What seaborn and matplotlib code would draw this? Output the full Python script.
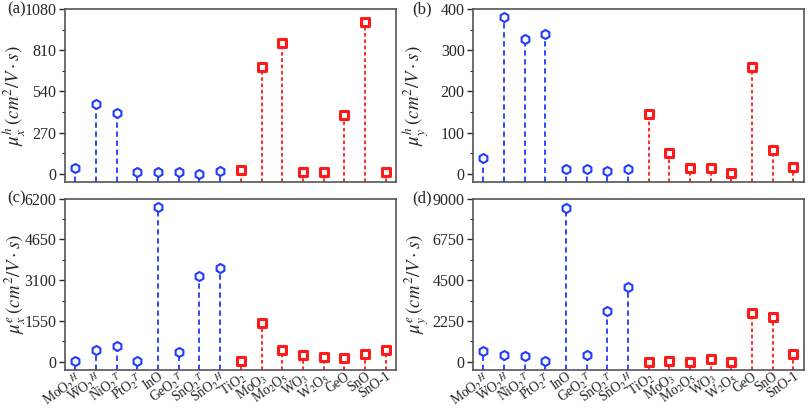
import numpy as np
import pandas as pd
import matplotlib
matplotlib.use('Agg')
import matplotlib.pyplot as plt
import seaborn as sns

# 재료 이름 (앞 8개는 파랑, 뒤 8개는 빨강)
materials = [r'MoO$_2$$^{H}$', r'WO$_2$$^{H}$', r'NiO$_2$$^{T}$', r'PtO$_2$$^{T}$', 'InO',
             r'GeO$_2$$^{T}$', r'SnO$_2$$^{T}$', r'SnO$_2$$^{H}$', r'TiO$_2$', r'MoO$_3$',
             r'Mo$_2$O$_5$', r'WO$_3$', r'W$_2$O$_5$', 'GeO', 'SnO', 'SnO-1']
group = ['blue'] * 8 + ['red'] * 8

mu_x_h = [39, 455, 398, 13, 9, 11, 1, 20, 22, 702, 855, 9, 11, 385, 995, 13]
mu_y_h = [39, 380, 327, 340, 11, 11, 7, 11, 146, 51, 14, 13, 3, 258, 58, 16]
mu_x_e = [10, 450, 590, 12, 5900, 375, 3250, 3560, 5, 1460, 440, 260, 175, 140, 290, 440]
mu_y_e = [566, 365, 292, 10, 8507, 365, 2793, 4126, 5, 55, 5, 128, 5, 2665, 2464, 438]

panels = [('(a)', mu_x_h, r'$\mu_x^h\,(cm^2/V\cdot s)$', [0, 270, 540, 810, 1080]),
          ('(b)', mu_y_h, r'$\mu_y^h\,(cm^2/V\cdot s)$', [0, 100, 200, 300, 400]),
          ('(c)', mu_x_e, r'$\mu_x^e\,(cm^2/V\cdot s)$', [0, 1550, 3100, 4650, 6200]),
          ('(d)', mu_y_e, r'$\mu_y^e\,(cm^2/V\cdot s)$', [0, 2250, 4500, 6750, 9000])]

sns.set_theme(style='ticks')
plt.rcParams['font.family'] = ['Liberation Serif', 'DejaVu Serif']
plt.rcParams['mathtext.fontset'] = 'stix'

blue = '#1f3cff'
red = '#ff1a1a'

fig = plt.figure(figsize=(8.1, 4.09), dpi=100)
boxes = [[0.080, 0.555, 0.409, 0.423], [0.584, 0.555, 0.408, 0.423],
         [0.080, 0.096, 0.409, 0.418], [0.584, 0.096, 0.408, 0.418]]

for i, (tag, vals, ylab, yt) in enumerate(panels):
    ax = fig.add_axes(boxes[i])
    df = pd.DataFrame({'x': np.arange(len(materials)), 'y': vals, 'g': group})
    ymax = yt[-1]
    ybot = -0.05 * ymax
    for g, c, ls in [('blue', blue, (0, (3, 2))), ('red', red, (0, (2, 1.5)))]:
        d = df[df.g == g]
        ax.vlines(d.x, ybot, d.y, colors=c, linestyles=[ls], linewidth=1.3)
    sns.scatterplot(data=df[df.g == 'blue'], x='x', y='y', ax=ax, marker='h', s=42,
                    facecolor='white', edgecolor=blue, linewidth=1.5, zorder=3)
    sns.scatterplot(data=df[df.g == 'red'], x='x', y='y', ax=ax, marker='s', s=30,
                    facecolor='white', edgecolor=red, linewidth=2.2, zorder=3)
    ax.set_xlim(-0.5, 15.5)
    ax.set_ylim(ybot, ymax)
    ax.set_yticks(yt)
    ax.set_yticks([(yt[k] + yt[k + 1]) / 2 for k in range(len(yt) - 1)], minor=True)
    ax.tick_params(axis='y', which='major', length=4, width=1, labelsize=11.5, pad=2)
    ax.tick_params(axis='y', which='minor', length=2, width=0.8)
    ax.set_xticks(df.x)
    ax.tick_params(axis='x', length=0, pad=0)
    if i >= 2:
        ax.set_xticklabels(materials, rotation=35, ha='right', rotation_mode='anchor', fontsize=9.8)
    else:
        ax.set_xticklabels([])
    ax.set_xlabel('')
    ax.set_ylabel(ylab, fontsize=13.5)
    left = (i % 2 == 0)
    ax.yaxis.set_label_coords(-0.112 if left else -0.128, 0.5)
    for s in ax.spines.values():
        s.set_color('#555555')
        s.set_linewidth(1.2)
    ax.text(-0.175 if left else -0.183, 1.0, tag, transform=ax.transAxes,
            fontsize=12, ha='left', va='center')

plt.savefig('out.png', dpi=100)
